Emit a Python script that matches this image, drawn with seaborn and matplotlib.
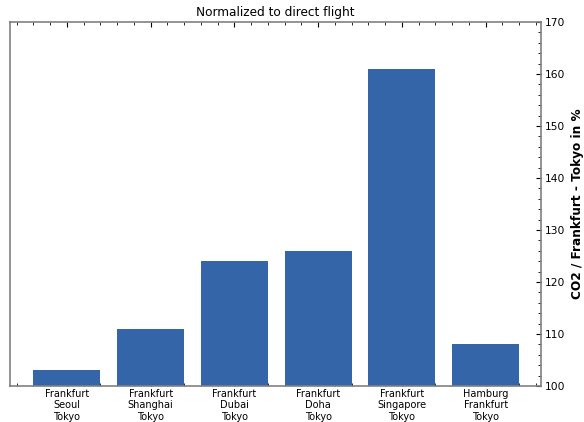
import matplotlib
matplotlib.use("Agg")
import matplotlib.pyplot as plt
from matplotlib.ticker import AutoMinorLocator, MultipleLocator
import seaborn as sns
import pandas as pd

routes = ["Frankfurt\nSeoul\nTokyo", "Frankfurt\nShanghai\nTokyo", "Frankfurt\nDubai\nTokyo",
          "Frankfurt\nDoha\nTokyo", "Frankfurt\nSingapore\nTokyo", "Hamburg\nFrankfurt\nTokyo"]
co2_pct = [103, 111, 124, 126, 161, 108]

df = pd.DataFrame({"route": routes, "co2": co2_pct})

sns.set_style("white")
plt.rcParams["font.family"] = ["DejaVu Sans"]
plt.rcParams["text.color"] = "black"
plt.rcParams["axes.labelcolor"] = "black"
plt.rcParams["xtick.color"] = "black"
plt.rcParams["ytick.color"] = "black"

fig = plt.figure(figsize=(5.84, 4.22), dpi=100)
ax = fig.add_axes([10 / 584, 1 - 386 / 422, 531 / 584, 364 / 422])

sns.barplot(data=df, x="route", y="co2", color="#3465a8", saturation=1, width=0.8,
            linewidth=0, ax=ax, zorder=2)

ax.set_ylim(100, 170)
ax.set_xlim(-0.68, 5.66)
ax.set_xlabel("")
ax.yaxis.set_label_position("right")
ax.yaxis.tick_right()
ax.set_ylabel("CO2 / Frankfurt - Tokyo in %", fontsize=8.7, fontweight="bold", labelpad=4)
ax.set_title("Normalized to direct flight", fontsize=8.7, pad=4)

ax.yaxis.set_major_locator(MultipleLocator(10))
ax.yaxis.set_minor_locator(AutoMinorLocator(5))
ax.xaxis.set_minor_locator(AutoMinorLocator(5))

ax.tick_params(axis="both", which="both", direction="in", zorder=5)
ax.tick_params(axis="x", which="both", top=True, bottom=True, labelsize=7, pad=2)
ax.tick_params(axis="y", which="both", left=False, right=True, labelsize=7.7)
ax.tick_params(which="major", length=3.5, width=0.8)
ax.tick_params(which="minor", length=2, width=0.6)
ax.tick_params(axis="y", which="major", pad=3)
for lab in ax.get_xticklabels():
    lab.set_linespacing(1.2)

for s in ax.spines.values():
    s.set_visible(True)
    s.set_color("#808080")
    s.set_linewidth(1.2)

fig.savefig("out.png", dpi=100)
